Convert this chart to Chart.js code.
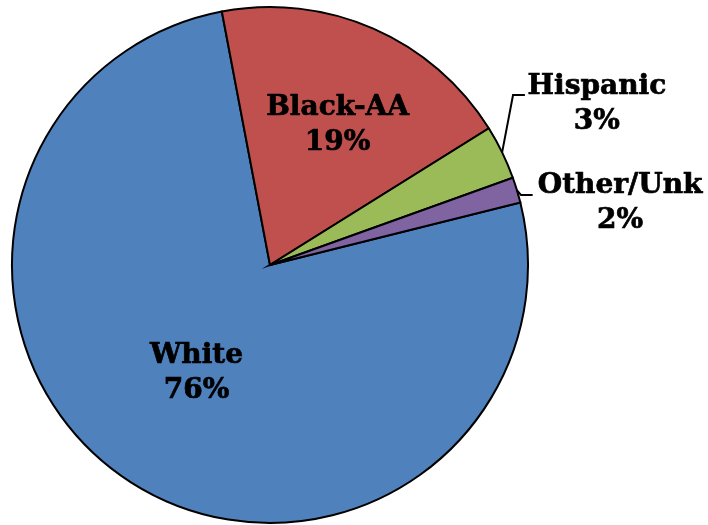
<!DOCTYPE html>
<html>
<head>
<meta charset="utf-8">
<script src="https://cdn.jsdelivr.net/npm/chart.js@4"></script>
<style>
html,body{margin:0;padding:0;background:#fff;}
#wrap{width:708px;height:525px;position:relative;}
</style>
</head>
<body>
<div id="wrap"><canvas id="c" width="708" height="525"></canvas></div>
<script>
const categories = ["White", "Black-AA", "Hispanic", "Other/Unk"];
const values = [75.9, 19.1, 3.4, 1.6];
const colors = ["#4F81BD", "#C0504D", "#9BBB59", "#8064A2"];

// label anchor offsets in units of radius (style only)
const labelPos = [
  {dx: -0.285, dy: 0.417, inside: true},
  {dx: 0.262, dy: -0.545, inside: true},
  {dx: 1.267, dy: -0.624, inside: false, elbow: {dx: 0.942, dy: -0.659}, end: {dx: 0.988, dy: -0.659}},
  {dx: 1.357, dy: -0.240, inside: false, elbow: {dx: 0.973, dy: -0.271}, end: {dx: 1.018, dy: -0.271}}
];

const labelPlugin = {
  id: 'pieLabels',
  afterDatasetsDraw(chart) {
    const ctx = chart.ctx;
    const meta = chart.getDatasetMeta(0);
    const total = values.reduce((a, b) => a + b, 0);
    ctx.save();
    ctx.font = 'bold 28px "DejaVu Serif", serif';
    ctx.fillStyle = '#000';
    ctx.strokeStyle = '#000';
    ctx.textAlign = 'center';
    ctx.textBaseline = 'middle';
    meta.data.forEach((arc, i) => {
      const cx = arc.x, cy = arc.y, r = arc.outerRadius;
      const p = labelPos[i];
      const x = cx + p.dx * r, y = cy + p.dy * r;
      const pct = Math.round(values[i] / total * 100) + '%';
      ctx.lineWidth = 0.7;
      ctx.fillText(categories[i], x, y - 17);
      ctx.strokeText(categories[i], x, y - 17);
      ctx.fillText(pct, x, y + 18);
      ctx.strokeText(pct, x, y + 18);
      if (!p.inside) {
        const mid = (arc.startAngle + arc.endAngle) / 2;
        const sx = cx + Math.cos(mid) * r, sy = cy + Math.sin(mid) * r;
        ctx.beginPath();
        ctx.lineWidth = 2;
        ctx.moveTo(sx, sy);
        ctx.lineTo(cx + p.elbow.dx * r, cy + p.elbow.dy * r);
        ctx.lineTo(cx + p.end.dx * r, cy + p.end.dy * r);
        ctx.stroke();
      }
    });
    ctx.restore();
  }
};

new Chart(document.getElementById('c'), {
  type: 'pie',
  data: {
    labels: categories,
    datasets: [{
      data: values,
      backgroundColor: colors,
      borderColor: '#000',
      borderWidth: 2,
      hoverOffset: 0,
      offset: 0,
      borderJoinStyle: 'miter'
    }]
  },
  options: {
    responsive: false,
    animation: false,
    rotation: 76,
    layout: {padding: {left: 11, right: 179, top: 6, bottom: 1}},
    plugins: {legend: {display: false}, tooltip: {enabled: false}},
    events: []
  },
  plugins: [labelPlugin]
});
</script>
</body>
</html>
